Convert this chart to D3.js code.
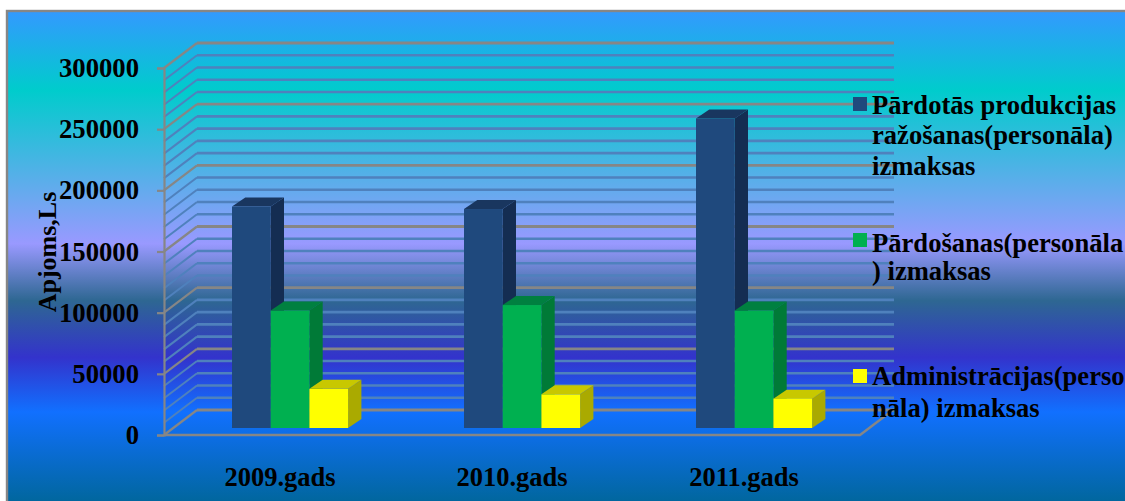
<!DOCTYPE html>
<html>
<head>
<meta charset="utf-8">
<script src="https://d3js.org/d3.v7.min.js"></script>
<style>
html, body { margin: 0; padding: 0; background: #fff; overflow: hidden; }
svg { display: block; }
text { font-family: "Liberation Serif", serif; font-weight: bold; fill: #000; }
</style>
</head>
<body>
<svg id="chart" width="1125" height="501"></svg>
<script>
// Personnel costs by year, in lats
const categories = ["2009.gads", "2010.gads", "2011.gads"];
const productionCosts = [181000, 179000, 253000];
const salesCosts = [96000, 100500, 96000];
const adminCosts = [32000, 27500, 24000];
const legendLines = [
  ["Pārdotās produkcijas", "ražošanas(personāla)", "izmaksas"],
  ["Pārdošanas(personāla", ") izmaksas"],
  ["Administrācijas(perso", "nāla) izmaksas"]
];
const yTicks = [0, 50000, 100000, 150000, 200000, 250000, 300000];
const yAxisTitle = "Apjoms,Ls";

const frontFaces = ["#1f497d", "#00b050", "#ffff00"];
const sideFaces = ["#142d52", "#007a37", "#aaaa00"];
const topFaces = ["#19365f", "#008040", "#c8c800"];
const backgroundStops = [
  [0, "#3399ff"], [0.16, "#00cccc"], [0.47, "#9999ff"], [0.585, "#2e6792"],
  [0.70, "#3333cc"], [0.81, "#1170ff"], [1, "#006699"]
];

const svg = d3.select("#chart");

// Frame and gradient fill
const grad = svg.append("defs").append("linearGradient")
  .attr("id", "bg").attr("x1", 0).attr("y1", 0).attr("x2", 0).attr("y2", 1);
grad.selectAll("stop").data(backgroundStops).join("stop")
  .attr("offset", d => d[0]).attr("stop-color", d => d[1]);
svg.append("rect").attr("x", 7).attr("y", 11).attr("width", 1130).attr("height", 495)
  .attr("fill", "url(#bg)").attr("stroke", "#868686").attr("stroke-width", 2.4);

// Scales for the front plane of the 3-D box
const floorLeft = 164, floorRight = 860, floorY = 435, topY = 68;
const depthX = 33, depthY = -25;
const x = d3.scaleBand().domain(categories).range([floorLeft, floorRight]);
const y = d3.scaleLinear().domain([0, 300000]).range([floorY, topY]);
const minorTicks = d3.range(0, 300001, 10000);
const isMajor = v => v % 50000 === 0;

// Gridlines on the back wall and the side wall
const grid = svg.append("g").attr("fill", "none");
const minorColor = "#4f81bd", majorColor = "#868686";
grid.selectAll("path.side").data(minorTicks).join("path")
  .attr("class", "side")
  .attr("d", v => `M${floorLeft},${y(v)}l${depthX},${depthY}`)
  .attr("stroke", v => isMajor(v) ? majorColor : minorColor)
  .attr("stroke-width", v => isMajor(v) ? 2.2 : 2);
grid.selectAll("line.minor").data(minorTicks.filter(v => !isMajor(v))).join("line")
  .attr("class", "minor")
  .attr("x1", floorLeft + depthX).attr("x2", floorRight + depthX + 1)
  .attr("y1", v => y(v) + depthY).attr("y2", v => y(v) + depthY)
  .attr("stroke", minorColor).attr("stroke-width", 2.6);
grid.selectAll("line.major").data(yTicks).join("line")
  .attr("class", "major")
  .attr("x1", floorLeft + depthX).attr("x2", floorRight + depthX + 1)
  .attr("y1", v => y(v) + depthY).attr("y2", v => y(v) + depthY)
  .attr("stroke", majorColor).attr("stroke-width", 2.8);

// Front floor edge
grid.append("path")
  .attr("d", `M${floorLeft},${floorY}H${floorRight}l${depthX},${depthY}`)
  .attr("stroke", majorColor).attr("stroke-width", 2.4);

// Value axis
const yAxis = svg.append("g").attr("transform", `translate(${floorLeft},0)`)
  .call(d3.axisLeft(y).tickValues(yTicks).tickFormat(d3.format("d")).tickSize(7).tickPadding(18));
yAxis.selectAll("path, line").attr("stroke", majorColor).attr("stroke-width", 2.2);
yAxis.selectAll("text").style("font-size", "26.7px").attr("dy", "0.32em").attr("fill", "#000");

// Category axis, labels only
const xAxis = svg.append("g").attr("transform", `translate(0,${floorY})`)
  .call(d3.axisBottom(x).tickSize(0).tickPadding(32));
xAxis.select("path").remove();
xAxis.selectAll("text").style("font-size", "26.5px").attr("dy", "0.71em").attr("fill", "#000");

svg.append("text").attr("transform", "translate(56,252) rotate(-90)")
  .attr("text-anchor", "middle").style("font-size", "26px").text(yAxisTitle);

// Bars: three shaded faces per value
const series = [productionCosts, salesCosts, adminCosts];
const barWidth = 38.7, barDX = 13.3, barDY = -9;
const groupInset = 68, baselineLift = 7;
categories.forEach((cat, i) => {
  series.forEach((vals, s) => {
    const left = x(cat) + groupInset + s * barWidth;
    const right = left + barWidth;
    const top = y(vals[i]) - baselineLift;
    const bottom = y(0) - baselineLift;
    const g = svg.append("g").attr("class", "bar");
    g.append("path").attr("fill", sideFaces[s])
      .attr("d", `M${right},${top}l${barDX},${barDY}V${bottom + barDY}L${right},${bottom}Z`);
    g.append("path").attr("fill", topFaces[s])
      .attr("d", `M${left},${top}l${barDX},${barDY}H${right + barDX}L${right},${top}Z`);
    g.append("rect").attr("x", left).attr("y", top)
      .attr("width", barWidth).attr("height", bottom - top).attr("fill", frontFaces[s]);
  });
});

// Legend
const legendX = 853, legendSwatch = 14;
const legendSwatchY = [97, 233, 369];
const legendBaselines = [[114, 144, 175], [252, 280], [385, 417]];
legendLines.forEach((lines, s) => {
  svg.append("rect").attr("x", legendX).attr("y", legendSwatchY[s])
    .attr("width", legendSwatch).attr("height", legendSwatch).attr("fill", frontFaces[s]);
  lines.forEach((line, l) => {
    svg.append("text").attr("x", 872).attr("y", legendBaselines[s][l])
      .style("font-size", "26.6px").text(line);
  });
});
</script>
</body>
</html>
